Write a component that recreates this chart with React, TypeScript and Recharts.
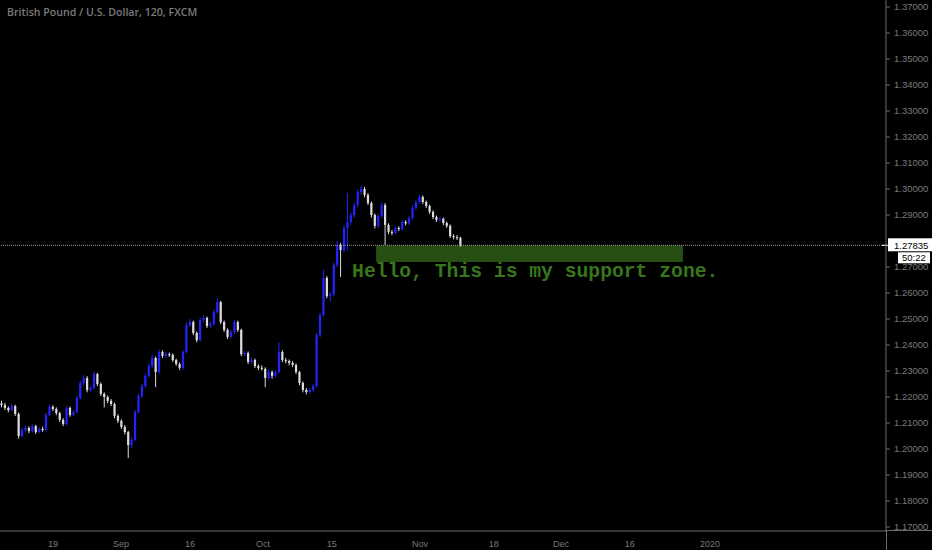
import { ComposedChart, Bar, XAxis, YAxis, ReferenceLine, ReferenceArea, ReferenceDot } from 'recharts';

// GBP/USD 120-minute candles, each entry here covers about half a trading day
const FIRST_OPEN = 1.2175;

const closes = [
  1.2169, 1.2158, 1.2150, 1.2165, 1.2135, 1.2050, 1.2073, 1.2081, 1.2069, 1.2088,
  1.2065, 1.2077, 1.2073, 1.2131, 1.2162, 1.2154, 1.2138, 1.2112, 1.2096, 1.2158,
  1.2131, 1.2142, 1.2196, 1.2254, 1.2273, 1.2227, 1.2235, 1.2288, 1.2250, 1.2212,
  1.2200, 1.2185, 1.2173, 1.2127, 1.2108, 1.2085, 1.2065, 1.2015, 1.2035, 1.2142,
  1.2204, 1.2242, 1.2281, 1.2319, 1.2350, 1.2296, 1.2373, 1.2358, 1.2365, 1.2362,
  1.2342, 1.2327, 1.2312, 1.2373, 1.2477, 1.2488, 1.2446, 1.2419, 1.2496, 1.2504,
  1.2473, 1.2481, 1.2527, 1.2565, 1.2488, 1.2458, 1.2431, 1.2450, 1.2488, 1.2458,
  1.2365, 1.2369, 1.2335, 1.2342, 1.2319, 1.2312, 1.2308, 1.2273, 1.2296, 1.2281,
  1.2296, 1.2373, 1.2342, 1.2338, 1.2331, 1.2323, 1.2296, 1.2254, 1.2227, 1.2219,
  1.2227, 1.2242, 1.2438, 1.2515, 1.2658, 1.2588, 1.2595, 1.2708, 1.2785, 1.2765,
  1.2850, 1.2873, 1.2900, 1.2938, 1.2988, 1.3000, 1.2977, 1.2946, 1.2900, 1.2858,
  1.2896, 1.2938, 1.2862, 1.2835, 1.2831, 1.2850, 1.2846, 1.2873, 1.2868, 1.2888,
  1.2927, 1.2950, 1.2969, 1.2950, 1.2935, 1.2912, 1.2892, 1.2881, 1.2885, 1.2869,
  1.2858, 1.2819, 1.2815, 1.2812, 1.2784,
];

const highs = [
  1.2186, 1.2177, 1.2164, 1.2173, 1.2170, 1.2140, 1.2081, 1.2090, 1.2087, 1.2095,
  1.2093, 1.2084, 1.2086, 1.2139, 1.2172, 1.2168, 1.2160, 1.2143, 1.2118, 1.2166,
  1.2163, 1.2150, 1.2204, 1.2263, 1.2284, 1.2280, 1.2243, 1.2296, 1.2293, 1.2256,
  1.2218, 1.2206, 1.2192, 1.2178, 1.2134, 1.2114, 1.2092, 1.2070, 1.2044, 1.2150,
  1.2212, 1.2250, 1.2290, 1.2328, 1.2362, 1.2356, 1.2382, 1.2380, 1.2374, 1.2371,
  1.2368, 1.2348, 1.2333, 1.2380, 1.2486, 1.2500, 1.2494, 1.2452, 1.2505, 1.2514,
  1.2510, 1.2490, 1.2536, 1.2580, 1.2570, 1.2494, 1.2464, 1.2458, 1.2496, 1.2494,
  1.2463, 1.2378, 1.2375, 1.2350, 1.2348, 1.2326, 1.2322, 1.2314, 1.2304, 1.2302,
  1.2304, 1.2410, 1.2380, 1.2350, 1.2344, 1.2338, 1.2329, 1.2300, 1.2260, 1.2234,
  1.2235, 1.2250, 1.2446, 1.2524, 1.2688, 1.2665, 1.2604, 1.2716, 1.2800, 1.2792,
  1.2860, 1.2985, 1.2910, 1.2948, 1.2998, 1.3012, 1.3008, 1.2984, 1.2952, 1.2906,
  1.2904, 1.2950, 1.2946, 1.2868, 1.2842, 1.2858, 1.2856, 1.2881, 1.2880, 1.2896,
  1.2936, 1.2958, 1.2977, 1.2975, 1.2956, 1.2940, 1.2918, 1.2898, 1.2893, 1.2890,
  1.2875, 1.2864, 1.2826, 1.2822, 1.2816,
];

const lows = [
  1.2160, 1.2150, 1.2141, 1.2145, 1.2127, 1.2040, 1.2044, 1.2066, 1.2061, 1.2063,
  1.2058, 1.2060, 1.2066, 1.2068, 1.2125, 1.2146, 1.2130, 1.2104, 1.2088, 1.2090,
  1.2124, 1.2125, 1.2137, 1.2190, 1.2246, 1.2218, 1.2220, 1.2229, 1.2242, 1.2204,
  1.2160, 1.2176, 1.2165, 1.2118, 1.2100, 1.2077, 1.2056, 1.1965, 1.2005, 1.2030,
  1.2136, 1.2197, 1.2235, 1.2274, 1.2312, 1.2238, 1.2290, 1.2350, 1.2351, 1.2354,
  1.2335, 1.2320, 1.2304, 1.2306, 1.2368, 1.2470, 1.2438, 1.2410, 1.2414, 1.2488,
  1.2465, 1.2466, 1.2475, 1.2520, 1.2480, 1.2450, 1.2423, 1.2425, 1.2444, 1.2450,
  1.2357, 1.2358, 1.2327, 1.2328, 1.2311, 1.2303, 1.2302, 1.2238, 1.2266, 1.2270,
  1.2274, 1.2290, 1.2334, 1.2330, 1.2322, 1.2315, 1.2288, 1.2245, 1.2218, 1.2210,
  1.2212, 1.2220, 1.2236, 1.2430, 1.2508, 1.2580, 1.2568, 1.2588, 1.2700, 1.2662,
  1.2757, 1.2765, 1.2862, 1.2890, 1.2930, 1.2978, 1.2968, 1.2938, 1.2890, 1.2848,
  1.2850, 1.2888, 1.2785, 1.2826, 1.2822, 1.2825, 1.2838, 1.2840, 1.2860, 1.2862,
  1.2882, 1.2920, 1.2944, 1.2942, 1.2927, 1.2904, 1.2884, 1.2873, 1.2874, 1.2861,
  1.2850, 1.2812, 1.2806, 1.2804, 1.2778,
];

// time axis, in half trading days from the left edge
const dateTicks = [15.5, 35.3, 55.5, 76.8, 96.9, 122.6, 144.2, 163.8, 183.9, 207.3];
const dateLabels = ['19', 'Sep', '16', 'Oct', '15', 'Nov', '18', 'Dec', '16', '2020'];

const priceTicks = [
  1.17, 1.18, 1.19, 1.2, 1.21, 1.22, 1.23, 1.24, 1.25, 1.26,
  1.27, 1.29, 1.3, 1.31, 1.32, 1.33, 1.34, 1.35, 1.36, 1.37,
];

const LAST_PRICE = 1.27835;
const COUNTDOWN = '50:22';
const zone = { from: 109.8, to: 199.4, low: 1.2719, high: 1.2783 };
const note = { t: 102.8, price: 1.2663, text: 'Hello, This is my support zone.' };

const UP = '#2323ff';
const DOWN = '#dcdcdc';
const AXIS_TEXT = '#7a7a7a';
const AXIS_LINE = '#6a6a6a';

const data = closes.map((c, i) => ({
  t: i + 0.5,
  open: i === 0 ? FIRST_OPEN : closes[i - 1],
  close: c,
  range: [lows[i], highs[i]],
}));

function Candle(props: any) {
  const { x, y, width, height, payload } = props;
  if (!payload) return null;
  const [low, high] = payload.range;
  const { open, close } = payload;
  const top = Math.min(y, y + height);
  const h = Math.abs(height);
  const k = h / (high - low);
  const color = close >= open ? UP : DOWN;
  const bodyTop = top + (high - Math.max(open, close)) * k;
  const bodyH = Math.max(1, Math.abs(close - open) * k);
  const cx = x + width / 2;
  return (
    <g>
      <line x1={cx} x2={cx} y1={top} y2={top + h} stroke={color} strokeWidth={1} />
      <rect x={cx - 1.1} y={bodyTop} width={2.2} height={bodyH} fill={color} />
    </g>
  );
}

function PriceTag(props: any) {
  const vb = props.viewBox;
  if (!vb) return null;
  const right = vb.x + vb.width;
  const y = vb.y;
  return (
    <g>
      <line x1={right - 4} x2={right + 2} y1={y} y2={y} stroke="#ffffff" strokeWidth={1} />
      <rect x={right + 2} y={y - 7} width={44} height={13} fill="#ffffff" />
      <text x={right + 8} y={y + 3.5} fontSize={9.5} fill="#000" fontFamily="Liberation Sans">
        {LAST_PRICE.toFixed(5)}
      </text>
      <rect x={right + 12} y={y + 7} width={32} height={11} fill="#ffffff" />
      <text x={right + 16} y={y + 15.8} fontSize={9.5} fill="#000" fontFamily="Liberation Sans">
        {COUNTDOWN}
      </text>
    </g>
  );
}

function NoteText(props: any) {
  const { cx, cy } = props;
  return (
    <text x={cx} y={cy} fontSize={19.7} fontWeight="bold" fill="#38761d" fontFamily="Liberation Mono">
      {note.text}
    </text>
  );
}

export default function App() {
  return (
    <div style={{ position: 'absolute', left: 0, top: 0, width: 932, height: 550, background: '#000', overflow: 'hidden' }}>
      <ComposedChart width={932} height={550} data={data} margin={{ top: 0, right: 0, bottom: 0, left: 0 }}>
        <XAxis
          type="number"
          dataKey="t"
          domain={[0, 258.69]}
          allowDataOverflow
          ticks={dateTicks}
          tickFormatter={(v: number) => dateLabels[dateTicks.indexOf(v)] ?? ''}
          tick={{ fill: AXIS_TEXT, fontSize: 9, fontFamily: 'Liberation Sans' }}
          tickLine={false}
          axisLine={{ stroke: AXIS_LINE }}
          height={19}
          tickMargin={4}
        />
        <YAxis
          orientation="right"
          domain={[1.16846, 1.37269]}
          allowDataOverflow
          ticks={priceTicks}
          interval={0}
          tickFormatter={(v: number) => v.toFixed(5)}
          tick={{ fill: AXIS_TEXT, fontSize: 9.5, fontFamily: 'Liberation Sans' }}
          tickLine={{ stroke: AXIS_LINE }}
          tickSize={4}
          tickMargin={4}
          axisLine={{ stroke: AXIS_LINE }}
          width={46}
        />
        <ReferenceArea
          x1={zone.from}
          x2={zone.to}
          y1={zone.low}
          y2={zone.high}
          fill="#274e13"
          fillOpacity={1}
          stroke="none"
        />
        <Bar dataKey="range" barSize={3} shape={<Candle />} isAnimationActive={false} />
        <ReferenceLine
          y={LAST_PRICE}
          stroke="#a0a0a0"
          strokeDasharray="1 1"
          label={<PriceTag />}
        />
        <ReferenceDot x={note.t} y={note.price} r={0} shape={<NoteText />} />
      </ComposedChart>
      <div style={{ position: 'absolute', left: 886, top: 531, width: 1, height: 19, background: AXIS_LINE }} />
      <div style={{ position: 'absolute', left: 886, top: 530, width: 46, height: 1, background: AXIS_LINE }} />
      <div
        style={{
          position: 'absolute',
          left: 7,
          top: 5,
          color: '#7b7b7b',
          fontFamily: 'Open Sans',
          fontWeight: 600,
          fontSize: 10.6,
          whiteSpace: 'nowrap',
        }}
      >
        British Pound / U.S. Dollar, 120, FXCM
      </div>
    </div>
  );
}
